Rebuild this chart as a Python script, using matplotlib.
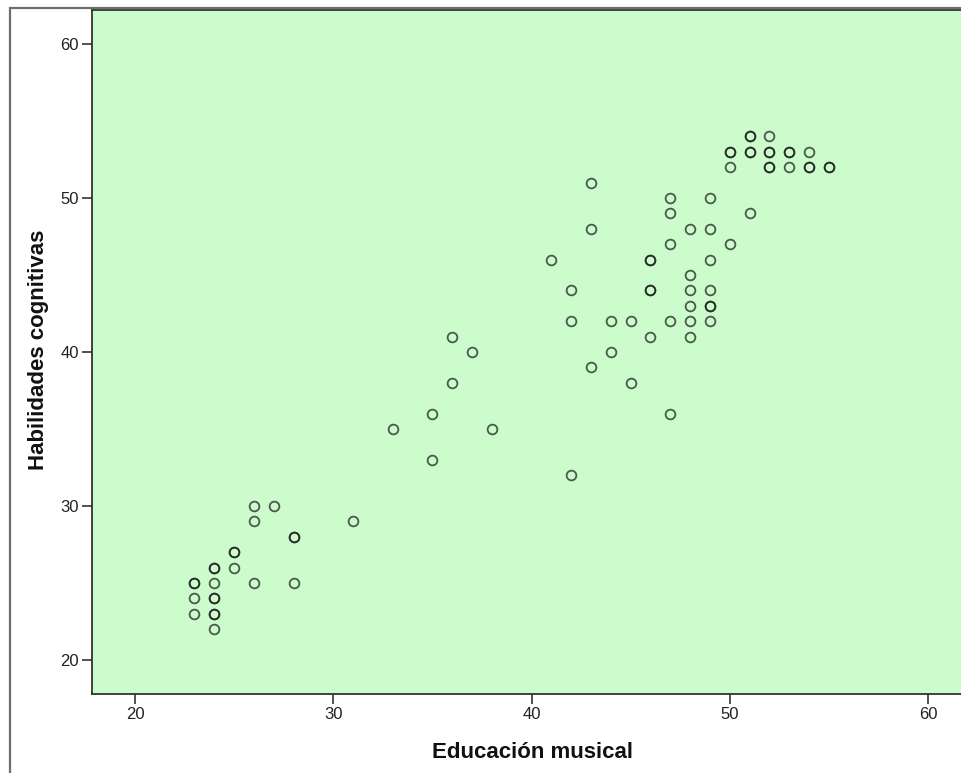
import matplotlib
matplotlib.use("Agg")
import matplotlib.pyplot as plt
from matplotlib.patches import Rectangle

#--------------------------------------------------------------------------------------
#Data (repeated pairs = overlapping circles)
educacion_musical = [26, 27, 26, 31, 28, 28, 25, 25, 24, 24, 25, 23, 23, 24, 26, 28,
                     23, 24, 24, 23, 24, 24, 24,
                     33, 35, 35, 36, 36, 37, 38,
                     43, 47, 49, 47, 51, 43, 48, 49, 47, 50, 41, 46, 46, 49, 48, 42,
                     46, 46, 48, 49, 48, 49, 49, 42, 44, 45, 47, 48, 49, 46, 48, 44,
                     43, 45, 47, 42,
                     51, 51, 52, 50, 50, 51, 51, 52, 52, 53, 53, 54, 50, 52, 52, 53,
                     54, 54, 55, 55]
habilidades_cognitivas = [30, 30, 29, 29, 28, 28, 27, 27, 26, 26, 26, 25, 25, 25, 25, 25,
                          24, 24, 24, 23, 23, 23, 22,
                          35, 36, 33, 41, 38, 40, 35,
                          51, 50, 50, 49, 49, 48, 48, 48, 47, 47, 46, 46, 46, 46, 45, 44,
                          44, 44, 44, 44, 43, 43, 43, 42, 42, 42, 42, 42, 42, 41, 41, 40,
                          39, 38, 36, 32,
                          54, 54, 54, 53, 53, 53, 53, 53, 53, 53, 53, 53, 52, 52, 52, 52,
                          52, 52, 52, 52]
ticks = [20, 30, 40, 50, 60]

#--------------------------------------------------------------------------------------
#Figure
plt.rcParams['font.family'] = ['Liberation Sans', 'DejaVu Sans']

W, H = 961, 773
fig = plt.figure(figsize=(W / 100, H / 100), dpi=100)

# outer frame of the chart (SPSS viewer)
fig.patches.append(Rectangle((10 / W, -0.05), 1.1, 1 - 8 / H + 0.05, transform=fig.transFigure,
                             fill=False, edgecolor="#6e6e6e", linewidth=1.6))

ax = fig.add_axes([92 / W, (H - 694) / H, 880 / W, 684.5 / H])
ax.set_facecolor("#ccfccc")
ax.plot(educacion_musical, habilidades_cognitivas, linestyle="none", marker="o",
        markersize=7.0, markerfacecolor="none", markeredgecolor=(0.1, 0.1, 0.1, 0.72),
        markeredgewidth=1.3)

ax.set_xlim(17.83, 62.22)
ax.set_ylim(17.79, 62.24)
ax.set_xticks(ticks)
ax.set_yticks(ticks)
ax.tick_params(direction="out", length=7.5, width=1.2, color="#333333",
               labelsize=12, labelcolor="#222222", pad=2)

for s in ["left", "bottom", "top", "right"]:
    ax.spines[s].set_color("#333333")
    ax.spines[s].set_linewidth(1.3)

fig.text(532 / W, 1 - 752 / H, "Educación musical", ha="center", va="center",
         fontsize=16, fontweight="bold", color="#111111")
fig.text(39 / W, 1 - 350 / H, "Habilidades cognitivas", ha="center", va="center",
         rotation=90, fontsize=16, fontweight="bold", color="#111111")

plt.savefig("out.png", dpi=100)
